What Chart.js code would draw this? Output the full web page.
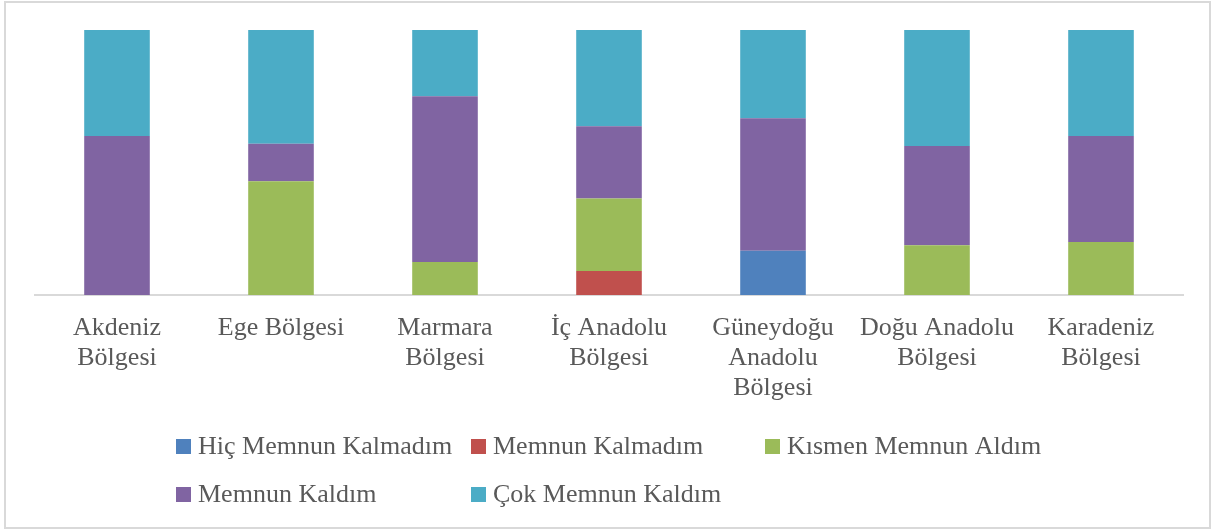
<!DOCTYPE html>
<html>
<head>
<meta charset="utf-8">
<script src="https://cdn.jsdelivr.net/npm/chart.js@4.4.0/dist/chart.umd.min.js"></script>
<style>
  html, body { margin: 0; padding: 0; background: #fff; }
  #wrap { width: 1213px; height: 530px; position: relative; }
</style>
</head>
<body>
<div id="wrap"><canvas id="chart" width="1213" height="530"></canvas></div>
<script>
// bölgeler
const regions = [
  ['Akdeniz', 'Bölgesi'],
  'Ege Bölgesi',
  ['Marmara', 'Bölgesi'],
  ['İç Anadolu', 'Bölgesi'],
  ['Güneydoğu', 'Anadolu', 'Bölgesi'],
  ['Doğu Anadolu', 'Bölgesi'],
  ['Karadeniz', 'Bölgesi']
];

// yüzde değerleri
const hicMemnunKalmadim = [0, 0, 0, 0, 16.7, 0, 0];
const memnunKalmadim    = [0, 0, 0, 9.1, 0, 0, 0];
const kismenMemnun      = [0, 42.9, 12.5, 27.3, 0, 18.75, 20];
const memnunKaldim      = [60, 14.2, 62.5, 27.3, 50, 37.5, 40];
const cokMemnunKaldim   = [40, 42.9, 25, 36.3, 33.3, 43.75, 40];

const seriesNames = ['Hiç Memnun Kalmadım', 'Memnun Kalmadım', 'Kısmen Memnun Aldım', 'Memnun Kaldım', 'Çok Memnun Kaldım'];
const seriesColors = ['#4F81BD', '#C0504D', '#9BBB59', '#8064A2', '#4BACC6'];
const seriesData = [hicMemnunKalmadim, memnunKalmadim, kismenMemnun, memnunKaldim, cokMemnunKaldim];

const FONT = "'Liberation Serif', 'DejaVu Serif', serif";

// çerçeve ve lejant
const frameLegend = {
  id: 'frameLegend',
  afterDraw(chart) {
    const ctx = chart.ctx;
    ctx.save();
    ctx.strokeStyle = '#d9d9d9';
    ctx.lineWidth = 2;
    ctx.strokeRect(5, 2, 1205, 526);

    const cols = [176, 471, 765];
    const rows = [446, 494];
    ctx.font = '26px ' + FONT;
    ctx.textBaseline = 'middle';
    chart.data.datasets.forEach((ds, i) => {
      const x = cols[i % 3];
      const y = rows[Math.floor(i / 3)];
      ctx.fillStyle = ds.backgroundColor;
      ctx.fillRect(x, y - 7, 15, 15);
      ctx.fillStyle = '#595959';
      ctx.fillText(ds.label, x + 22, y + 1);
    });
    ctx.restore();
  }
};

new Chart(document.getElementById('chart'), {
  type: 'bar',
  data: {
    labels: regions,
    datasets: seriesNames.map((name, i) => ({
      label: name,
      data: seriesData[i],
      backgroundColor: seriesColors[i],
      borderWidth: 0,
      barPercentage: 0.8,
      categoryPercentage: 0.5
    }))
  },
  options: {
    responsive: false,
    animation: false,
    layout: { padding: { top: 30, left: 35, right: 30, bottom: 0 } },
    plugins: {
      legend: { display: false },
      tooltip: { enabled: false }
    },
    scales: {
      x: {
        stacked: true,
        grid: { display: false, drawTicks: false },
        border: { display: true, color: '#d9d9d9', width: 2 },
        ticks: {
          color: '#595959',
          font: { family: FONT, size: 26, lineHeight: '30px' },
          padding: 18,
          maxRotation: 0,
          minRotation: 0,
          autoSkip: false
        },
        afterFit(scale) { scale.height = 235; }
      },
      y: {
        stacked: true,
        display: false,
        min: 0,
        max: 100
      }
    }
  },
  plugins: [frameLegend]
});
</script>
</body>
</html>
